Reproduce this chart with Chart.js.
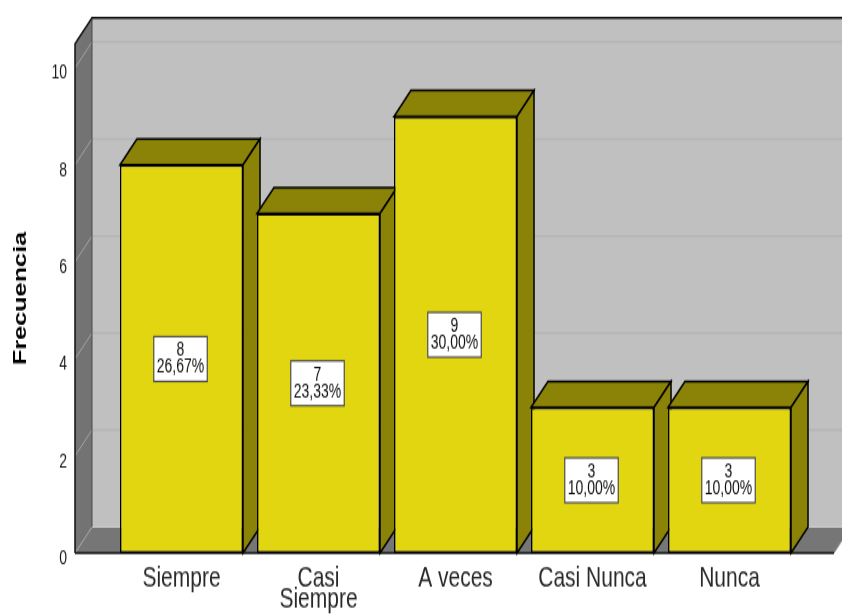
<!DOCTYPE html>
<html>
<head>
<meta charset="utf-8">
<script src="https://cdn.jsdelivr.net/npm/chart.js@4/dist/chart.umd.min.js"></script>
<style>
  html, body { margin: 0; padding: 0; background: #ffffff; width: 842px; height: 616px; }
  #page { position: relative; width: 842px; height: 616px; overflow: hidden; }
  /* the chart is laid out on an 842x440 canvas and stretched to the full 616px height */
  #frame { position: absolute; left: 0; top: 0; width: 842px; height: 440px; transform: scaleY(1.4); transform-origin: 0 0; }
</style>
</head>
<body>
<div id="page"><div id="frame"><canvas id="chart" width="842" height="440"></canvas></div></div>
<script>
// Respuestas por categoría
const categories = ['Siempre', ['Casi', 'Siempre'], 'A veces', 'Casi Nunca', 'Nunca'];
const frequencies = [8, 7, 9, 3, 3];
const percentLabels = ['26,67%', '23,33%', '30,00%', '10,00%', '10,00%'];
const yTickValues = [0, 2, 4, 6, 8, 10];
const yMax = 10.5;

// look of the 3D box
const DEPTH_X = 17;
const DEPTH_Y = 18.6;
const WALL_LEFT = 38;
const WALL_RIGHT = 36;
const FRONT = '#e2d610';
const SHADE = '#8b8308';

Chart.defaults.font.family = "'Liberation Sans', Arial, sans-serif";

function poly(ctx, pts, fill, stroke, lw) {
  ctx.beginPath();
  ctx.moveTo(pts[0][0], pts[0][1]);
  for (let i = 1; i < pts.length; i++) ctx.lineTo(pts[i][0], pts[i][1]);
  ctx.closePath();
  if (fill) { ctx.fillStyle = fill; ctx.fill(); }
  if (stroke) { ctx.strokeStyle = stroke; ctx.lineWidth = lw || 1; ctx.stroke(); }
}

function line(ctx, x1, y1, x2, y2, color, lw) {
  ctx.beginPath();
  ctx.moveTo(x1, y1);
  ctx.lineTo(x2, y2);
  ctx.strokeStyle = color;
  ctx.lineWidth = lw;
  ctx.stroke();
}

const box3d = {
  id: 'box3d',
  beforeDatasetsDraw(chart) {
    const { ctx, chartArea: a, scales: { y } } = chart;
    const L = a.left - WALL_LEFT;
    const R = a.right + WALL_RIGHT;
    const yTop = y.getPixelForValue(y.max);
    const y0 = y.getPixelForValue(0);
    ctx.save();

    // back wall
    ctx.fillStyle = '#c0c0c0';
    ctx.fillRect(L + DEPTH_X, yTop - DEPTH_Y, chart.width - (L + DEPTH_X), y0 - yTop);
    // left wall
    poly(ctx, [[L, yTop], [L + DEPTH_X, yTop - DEPTH_Y], [L + DEPTH_X, y0 - DEPTH_Y], [L, y0]], '#737373');
    // floor
    poly(ctx, [[L, y0], [L + DEPTH_X, y0 - DEPTH_Y], [R + DEPTH_X, y0 - DEPTH_Y], [R, y0]], '#767676');

    // grid lines on the back wall and the left wall
    yTickValues.forEach(v => {
      const py = y.getPixelForValue(v);
      if (v > 0) line(ctx, L + DEPTH_X, py - DEPTH_Y, chart.width, py - DEPTH_Y, '#b3b3b3', 1.2);
      line(ctx, L, py, L + DEPTH_X, py - DEPTH_Y, '#a6a6a6', 1);
    });
    line(ctx, L + DEPTH_X, y0 - DEPTH_Y, R + DEPTH_X, y0 - DEPTH_Y, '#d0d0d0', 1);

    // edges
    line(ctx, L + DEPTH_X, yTop - DEPTH_Y, L + DEPTH_X, y0 - DEPTH_Y, '#4a4a4a', 1);
    ctx.beginPath();
    ctx.moveTo(L, y0);
    ctx.lineTo(L, yTop);
    ctx.lineTo(L + DEPTH_X, yTop - DEPTH_Y);
    ctx.lineTo(chart.width, yTop - DEPTH_Y);
    ctx.strokeStyle = '#111';
    ctx.lineWidth = 1.5;
    ctx.stroke();
    line(ctx, L, y0, R, y0, '#111', 1.3);
    line(ctx, R, y0, R + DEPTH_X, y0 - DEPTH_Y, '#9a9a9a', 1);

    // top and side faces of the bars
    const meta = chart.getDatasetMeta(0);
    meta.data.forEach(bar => {
      const p = bar.getProps(['x', 'y', 'base', 'width'], true);
      const l = p.x - p.width / 2, r = p.x + p.width / 2;
      const t = p.y, b = p.base;
      poly(ctx, [[l, t], [l + DEPTH_X, t - DEPTH_Y], [r + DEPTH_X, t - DEPTH_Y], [r, t]], SHADE, '#000', 1.5);
      poly(ctx, [[r, t], [r + DEPTH_X, t - DEPTH_Y], [r + DEPTH_X, b - DEPTH_Y], [r, b]], SHADE, '#000', 1.5);
    });
    ctx.restore();
  },
  afterDatasetsDraw(chart) {
    const { ctx } = chart;
    const meta = chart.getDatasetMeta(0);
    ctx.save();
    ctx.font = "14px 'Liberation Sans', Arial, sans-serif";
    meta.data.forEach((bar, i) => {
      const p = bar.getProps(['x', 'y', 'base'], true);
      const cx = p.x - 1;
      const cy = (p.y + p.base) / 2;
      const l1 = String(frequencies[i]);
      const l2 = percentLabels[i];
      const w = Math.max(ctx.measureText(l1).width, ctx.measureText(l2).width) + 6;
      const h = 32;
      ctx.fillStyle = '#ffffff';
      ctx.fillRect(cx - w / 2, cy - h / 2, w, h);
      ctx.strokeStyle = '#4d4d4d';
      ctx.lineWidth = 1.2;
      ctx.strokeRect(cx - w / 2, cy - h / 2, w, h);
      ctx.fillStyle = '#111';
      ctx.textAlign = 'center';
      ctx.textBaseline = 'middle';
      ctx.fillText(l1, cx, cy - 6);
      ctx.fillText(l2, cx, cy + 6);
    });
    ctx.restore();
  }
};

new Chart(document.getElementById('chart'), {
  type: 'bar',
  data: {
    labels: categories,
    datasets: [{
      data: frequencies,
      backgroundColor: FRONT,
      borderColor: '#000',
      borderWidth: 1.5,
      borderSkipped: false,
      categoryPercentage: 1,
      barPercentage: 0.898
    }]
  },
  options: {
    responsive: false,
    animation: false,
    layout: { padding: { left: 0, right: 44, top: 31.25, bottom: 0 } },
    plugins: { legend: { display: false }, tooltip: { enabled: false } },
    scales: {
      x: {
        grid: { display: false, drawTicks: false },
        border: { display: false },
        ticks: {
          color: '#2a2a2a',
          padding: 10,
          maxRotation: 0,
          autoSkip: false,
          font: { size: 21, lineHeight: 0.74 }
        },
        afterFit(scale) {
          scale.height = 45;
          scale.paddingLeft = 0;
          scale.paddingRight = 0;
        }
      },
      y: {
        min: 0,
        max: yMax,
        grid: { display: false, drawTicks: false },
        border: { display: false },
        afterBuildTicks(scale) {
          scale.ticks = yTickValues.map(v => ({ value: v }));
        },
        ticks: {
          color: '#1a1a1a',
          padding: 46,
          labelOffset: 4,
          font: { size: 14 }
        },
        title: {
          display: true,
          text: 'Frecuencia',
          color: '#000',
          padding: { top: 10, bottom: 0 },
          font: { size: 18, weight: 'bold' }
        },
        afterFit(scale) {
          scale.width = 113;
          scale.paddingTop = 0;
          scale.paddingBottom = 0;
        }
      }
    }
  },
  plugins: [box3d]
});
</script>
</body>
</html>
